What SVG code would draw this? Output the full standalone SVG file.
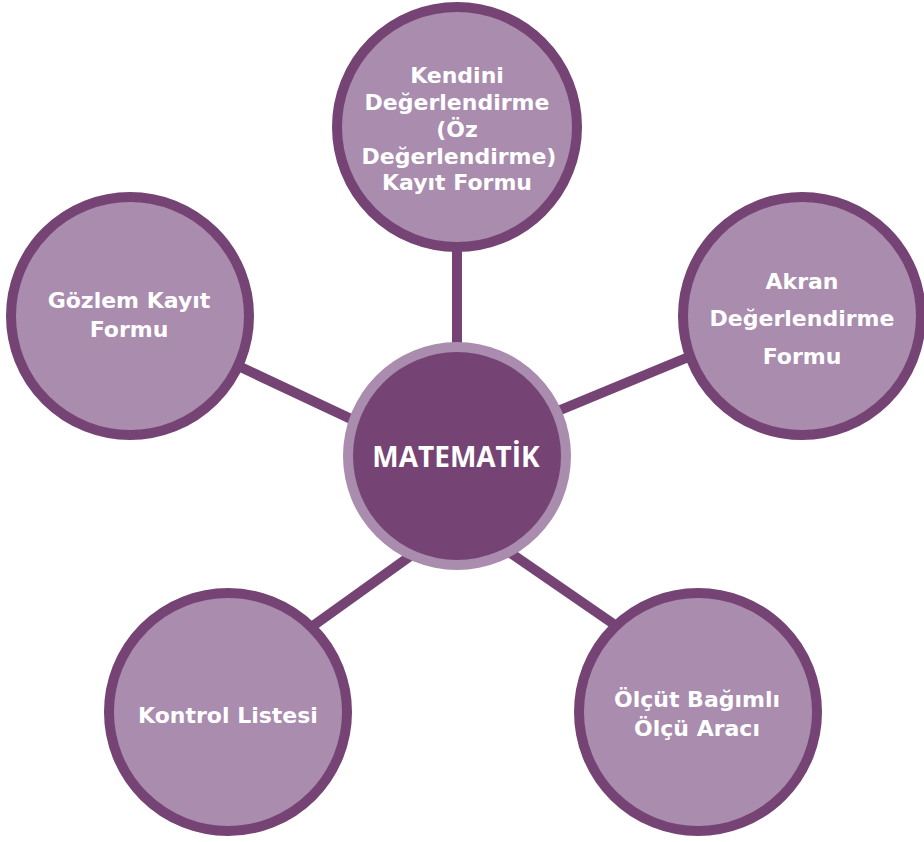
<svg xmlns="http://www.w3.org/2000/svg" width="924" height="842" viewBox="0 0 924 842">
  <style>
    .conn { stroke: #754474; stroke-width: 10; fill: none; }
    .node { fill: #a98cae; stroke: #754474; stroke-width: 10; }
    .lbl { font-family: "DejaVu Sans", "Liberation Sans", sans-serif; font-weight: bold; font-size: 22px; fill: #ffffff; text-anchor: middle; }
    .center-ring { fill: #a98cae; }
    .center-core { fill: #754474; }
    .clbl { font-family: "Open Sans", "Liberation Sans", sans-serif; font-weight: bold; font-size: 28px; fill: #ffffff; text-anchor: middle; }
  </style>
  <rect width="924" height="842" fill="#ffffff"/>
  <g id="connectors">
    <line class="conn" x1="457" y1="230" x2="457" y2="360"/>
    <line class="conn" x1="200" y1="348" x2="400" y2="442"/>
    <line class="conn" x1="720" y1="344" x2="500" y2="435"/>
    <line class="conn" x1="250" y1="671" x2="430" y2="542"/>
    <line class="conn" x1="480" y1="532" x2="660" y2="656"/>
  </g>
  <g id="node-kendini">
    <circle class="node" cx="457" cy="127" r="120"/>
    <text class="lbl" x="457" y="83">Kendini</text>
    <text class="lbl" x="457" y="110">Değerlendirme</text>
    <text class="lbl" x="457" y="137">(Öz</text>
    <text class="lbl" x="459" y="164">Değerlendirme)</text>
    <text class="lbl" x="457" y="190">Kayıt Formu</text>
  </g>
  <g id="node-gozlem">
    <circle class="node" cx="130" cy="316" r="119"/>
    <text class="lbl" x="129" y="308">Gözlem Kayıt</text>
    <text class="lbl" x="129" y="337">Formu</text>
  </g>
  <g id="node-akran">
    <circle class="node" cx="802" cy="316" r="119"/>
    <text class="lbl" x="802" y="289">Akran</text>
    <text class="lbl" x="802" y="326">Değerlendirme</text>
    <text class="lbl" x="802" y="364">Formu</text>
  </g>
  <g id="node-kontrol">
    <circle class="node" cx="228" cy="712" r="119"/>
    <text class="lbl" x="228" y="723">Kontrol Listesi</text>
  </g>
  <g id="node-olcut">
    <circle class="node" cx="698" cy="712" r="119"/>
    <text class="lbl" x="697" y="707">Ölçüt Bağımlı</text>
    <text class="lbl" x="697" y="736">Ölçü Aracı</text>
  </g>
  <g id="node-matematik">
    <circle class="center-ring" cx="457" cy="456" r="114"/>
    <circle class="center-core" cx="457" cy="456" r="104"/>
    <text class="clbl" x="456" y="467">MATEMATİK</text>
  </g>
</svg>
